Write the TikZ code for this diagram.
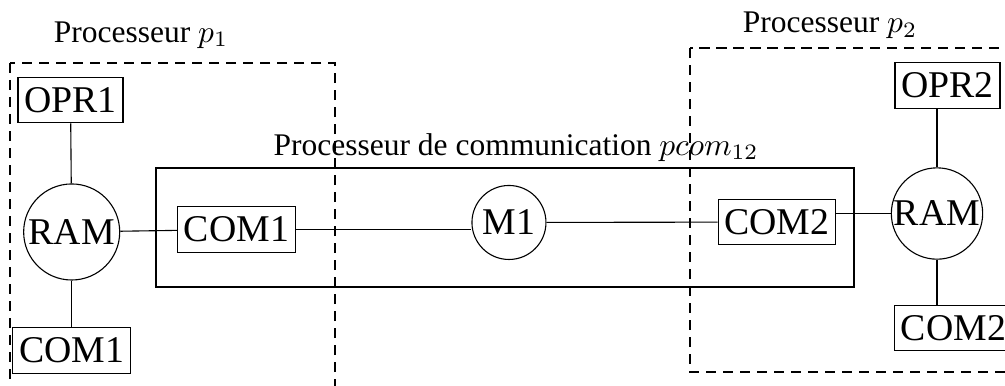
\documentclass[tikz,border=0pt]{standalone}
\usepackage{fontspec}
\setmainfont{Liberation Serif}
\usepackage{tikz}
\usetikzlibrary{positioning,calc}

\begin{document}
\begin{tikzpicture}[
    line width=0.35pt,
    every node/.style={font=\normalsize},
    unit/.style={rectangle, draw, inner xsep=2pt, inner ysep=3.2pt, font=\large},
    mem/.style={circle, draw, minimum size=#1, inner sep=0pt, font=\large},
    zone/.style={draw, dash pattern=on 3.2pt off 2.2pt},
    frame/.style={draw},
    title/.style={anchor=base},
]
\clip (0,0) rectangle (11.216,-4.297);

% Processeur p1
\draw[zone] (0.112,-0.703) rectangle (3.739,-4.6);
\node[title] (t1) at (1.574,-0.469) {Processeur $p_1$};
\node[unit] (opr1) at (0.787,-1.116) {OPR1};
\node[mem=30.5pt] (ram1) at (0.800,-2.589) {\makebox[0pt]{RAM}};
\node[unit] (com1b) at (0.800,-3.911) {COM1};

% Processeur p2
\draw[zone] (7.700,-0.536) rectangle (11.5,-4.152);
\node[title] (t2) at (9.263,-0.368) {Processeur $p_2$};
\node[unit] (opr2) at (10.574,-0.954) {OPR2};
\node[mem=29pt] (ram2) at (10.457,-2.383) {\makebox[0pt]{RAM}};
\node[unit] (com2b) at (10.640,-3.660) {COM2};

% Processeur de communication
\draw[frame] (1.741,-1.875) rectangle (9.531,-3.203);
\node[title] (t3) at (5.759,-1.730) {Processeur de communication $pcom_{12}$};
\node[unit] (com1) at (2.639,-2.561) {COM1};
\node[mem=23.5pt] (m1) at (5.680,-2.483) {M1};
\node[unit] (com2) at (8.671,-2.478) {COM2};

% Liaisons
\draw (opr1) -- (ram1);
\draw (ram1) -- (com1b);
\draw (ram1) -- (com1);
\draw (com1) -- (com1 -| m1.west);
\draw (m1) -- (com2);
\draw (ram2) -- (ram2 -| com2.east);
\draw (ram2) -- (ram2 |- opr2.south);
\draw (ram2) -- (ram2 |- com2b.north);

\end{tikzpicture}
\end{document}
